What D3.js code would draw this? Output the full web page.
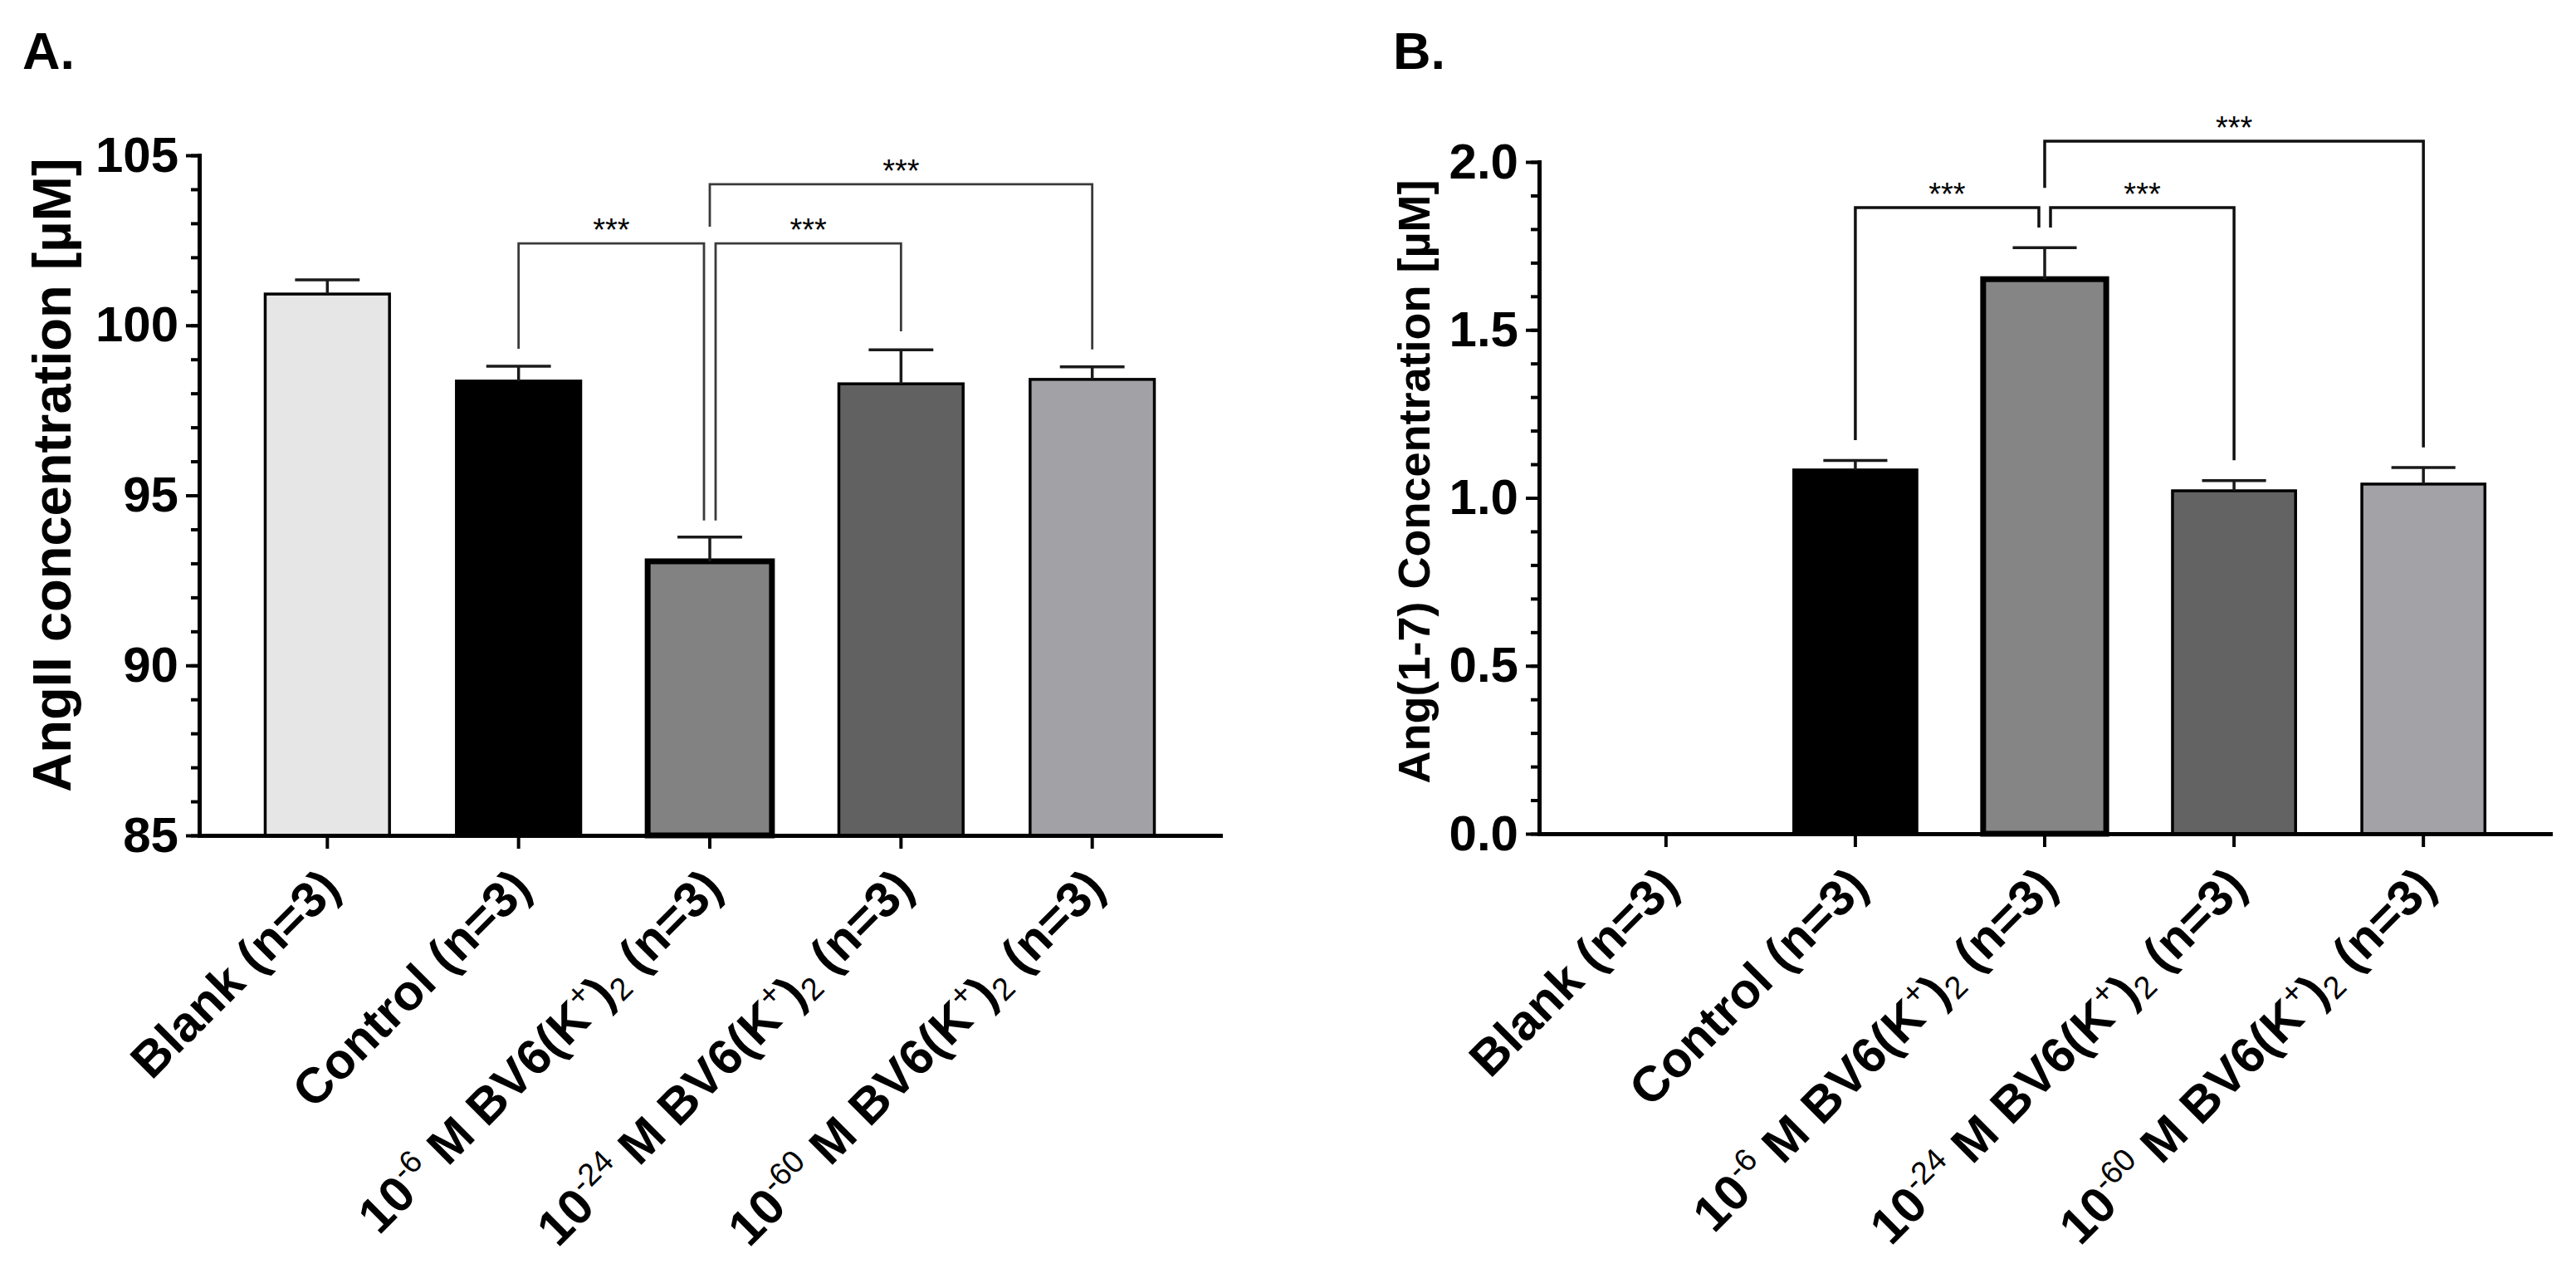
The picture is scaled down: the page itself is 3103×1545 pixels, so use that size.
<!DOCTYPE html>
<html>
<head>
<meta charset="utf-8">
<script src="https://cdn.jsdelivr.net/npm/d3@7"></script>
<style>
  body { margin: 0; background: #fff; }
  text { font-family: "Liberation Sans", Arial, sans-serif; }
</style>
</head>
<body>
<script>
// Two bar charts: AngII (panel A) and Ang(1-7) (panel B) after BV6(K+)2 treatment

// Categories, shared by both panels (^{..} = superscript, _{..} = subscript)
let categories = [
    "Blank (n=3)",
    "Control (n=3)",
    "10^{-6} M BV6(K^{+})_{2} (n=3)",
    "10^{-24} M BV6(K^{+})_{2} (n=3)",
    "10^{-60} M BV6(K^{+})_{2} (n=3)"
];

// Panel A - AngII concentration [µM], mean and error
let angIIMeans = [100.92, 98.36, 93.06, 98.28, 98.41];
let angIIErrors = [0.42, 0.44, 0.71, 1.00, 0.37];
let angIITicks = [85, 90, 95, 100, 105];

// Panel B - Ang(1-7) concentration [µM], mean and error
let ang17Means = [0, 1.083, 1.651, 1.021, 1.041];
let ang17Errors = [0, 0.028, 0.094, 0.030, 0.049];
let ang17Ticks = [0.0, 0.5, 1.0, 1.5, 2.0];

// Significance brackets: from / to category, heights in data units
let angIIBrackets = [
    { from: 1, to: 2, line: 102.41, fromEnd: 99.31, toEnd: 94.26, label: "***" },
    { from: 2, to: 3, line: 102.41, fromEnd: 94.26, toEnd: 99.82, label: "***" },
    { from: 2, to: 4, line: 104.15, fromEnd: 102.90, toEnd: 99.29, label: "***" }
];
let ang17Brackets = [
    { from: 1, to: 2, line: 1.864, fromEnd: 1.172, toEnd: 1.805, label: "***" },
    { from: 2, to: 3, line: 1.864, fromEnd: 1.805, toEnd: 1.112, label: "***" },
    { from: 2, to: 4, line: 2.062, fromEnd: 1.923, toEnd: 1.150, label: "***" }
];

// Bar fills (style)
let fillsA = ["#e6e6e6", "#000000", "#828282", "#616161", "#a2a2a6"];
let fillsB = ["#e6e6e6", "#000000", "#858585", "#636363", "#a3a3a7"];

let svg = d3.select("body")
    .append("svg")
    .attr("width", 3103)
    .attr("height", 1545);

// write a label with ^{} and _{} parts as tspans
function richText(sel, str, small) {
    let parts = str.split(/(\^\{[^}]*\}|_\{[^}]*\})/).filter(s => s.length);
    let shift = 0;
    parts.forEach(p => {
        let kind = "n", t = p;
        if (p.startsWith("^{")) { kind = "sup"; t = p.slice(2, -1); }
        else if (p.startsWith("_{")) { kind = "sub"; t = p.slice(2, -1); }
        let target = kind === "sup" ? -small * 0.62 : kind === "sub" ? small * 0.22 : 0;
        let ts = sel.append("tspan").attr("dy", target - shift).text(t);
        if (kind !== "n") ts.attr("font-size", small).attr("font-weight", "normal");
        shift = target;
    });
}

function drawPanel(cfg) {
    let g = svg.append("g");

    let x = d3.scaleBand()
        .domain(d3.range(categories.length))
        .range([cfg.x0, cfg.x1])
        .paddingInner(0.35)
        .paddingOuter(0.345);

    let y = d3.scaleLinear()
        .domain(cfg.domain)
        .range([cfg.y0, cfg.y1]);

    let bw = x.bandwidth();

    // bars
    g.selectAll("rect.bar")
        .data(cfg.means.map((m, i) => ({ m, i })).filter(d => d.m > cfg.domain[0]))
        .enter().append("rect")
        .attr("class", "bar")
        .attr("x", d => x(d.i))
        .attr("y", d => y(d.m))
        .attr("width", bw)
        .attr("height", d => y(cfg.domain[0]) - y(d.m))
        .attr("fill", d => cfg.fills[d.i])
        .attr("stroke", "#000")
        .attr("stroke-width", d => d.i === 2 ? 7 : 3.5);

    // error bars
    let eb = g.selectAll("g.err")
        .data(cfg.means.map((m, i) => ({ m, e: cfg.errors[i], i })).filter(d => d.e > 0))
        .enter().append("g")
        .attr("class", "err")
        .attr("stroke", "#1a1a1a")
        .attr("stroke-width", 3.5);
    eb.append("line")
        .attr("x1", d => x(d.i) + bw / 2).attr("x2", d => x(d.i) + bw / 2)
        .attr("y1", d => y(d.m)).attr("y2", d => y(d.m + d.e));
    eb.append("line")
        .attr("x1", d => x(d.i) + bw * 0.24).attr("x2", d => x(d.i) + bw * 0.76)
        .attr("y1", d => y(d.m + d.e)).attr("y2", d => y(d.m + d.e));

    // y axis, major and minor ticks
    let yAxis = d3.axisLeft(y)
        .tickValues(cfg.ticks)
        .tickSize(16)
        .tickSizeOuter(0)
        .tickPadding(9)
        .tickFormat(cfg.format);
    let yMinor = d3.axisLeft(y)
        .tickValues(cfg.minor)
        .tickSize(10)
        .tickSizeOuter(0)
        .tickFormat("");

    g.append("g")
        .attr("transform", `translate(${cfg.x0}, 0)`)
        .call(yMinor)
        .call(a => a.select(".domain").remove())
        .selectAll("line").attr("stroke-width", 4);

    let ya = g.append("g")
        .attr("transform", `translate(${cfg.x0}, 0)`)
        .call(yAxis);
    ya.select(".domain").attr("stroke-width", 5).attr("stroke-linecap", "square");
    ya.selectAll("line").attr("stroke-width", 4);
    ya.selectAll("text")
        .attr("font-size", 60)
        .attr("font-weight", "bold")
        .attr("fill", "#000")
        .style("font-family", "'Liberation Sans', Arial, sans-serif");

    // x axis
    let xAxis = d3.axisBottom(x)
        .tickSize(16)
        .tickSizeOuter(0)
        .tickFormat("");
    let xa = g.append("g")
        .attr("transform", `translate(0, ${cfg.y0})`)
        .call(xAxis);
    xa.select(".domain").attr("stroke-width", 5).attr("stroke-linecap", "square");
    xa.selectAll("line").attr("stroke-width", 4);

    // rotated category labels
    categories.forEach((c, i) => {
        let t = g.append("text")
            .attr("transform", `translate(${x(i) + bw / 2 + 18}, ${cfg.y0 + 66}) rotate(-45)`)
            .attr("text-anchor", "end")
            .attr("font-size", 60)
            .attr("font-weight", "bold");
        richText(t, c, 38);
    });

    // significance brackets
    cfg.brackets.forEach(b => {
        let nudge = (idx, other) => {
            let shared = cfg.brackets.some(o => o !== b && o.line === b.line &&
                (o.from === idx || o.to === idx));
            return shared ? Math.sign(other - idx) * 7 : 0;
        };
        let xa1 = x(b.from) + bw / 2 + nudge(b.from, b.to);
        let xa2 = x(b.to) + bw / 2 + nudge(b.to, b.from);
        g.append("path")
            .attr("d", `M${xa1},${y(b.fromEnd)}V${y(b.line)}H${xa2}V${y(b.toEnd)}`)
            .attr("fill", "none")
            .attr("stroke", cfg.bracketColor)
            .attr("stroke-width", cfg.bracketWidth);
        g.append("text")
            .attr("x", (xa1 + xa2) / 2)
            .attr("y", y(b.line) - 3)
            .attr("text-anchor", "middle")
            .attr("font-size", 38)
            .text(b.label);
    });

    // y axis title
    g.append("text")
        .attr("transform", `translate(${cfg.titleX}, ${cfg.titleY}) rotate(-90)`)
        .attr("text-anchor", "middle")
        .attr("font-size", cfg.titleSize)
        .attr("font-weight", "bold")
        .text(cfg.title);

    // panel letter
    g.append("text")
        .attr("x", cfg.letterX)
        .attr("y", 83)
        .attr("font-size", 63)
        .attr("font-weight", "bold")
        .text(cfg.letter);
}

drawPanel({
    means: angIIMeans, errors: angIIErrors, ticks: angIITicks,
    minor: d3.range(85, 105.5, 1), domain: [85, 105], format: d3.format("d"),
    fills: fillsA, brackets: angIIBrackets,
    bracketColor: "#3a3a3a", bracketWidth: 2.8,
    x0: 240, x1: 1470, y0: 1006, y1: 187,
    title: "AngII concentration [µM]", titleX: 85, titleY: 572, titleSize: 65,
    letter: "A.", letterX: 27
});

drawPanel({
    means: ang17Means, errors: ang17Errors, ticks: ang17Ticks,
    minor: d3.range(0, 2.05, 0.1), domain: [0, 2], format: d3.format(".1f"),
    fills: fillsB, brackets: ang17Brackets,
    bracketColor: "#111", bracketWidth: 3.5,
    x0: 1854, x1: 3072, y0: 1004, y1: 195,
    title: "Ang(1-7) Concentration [µM]", titleX: 1722, titleY: 580, titleSize: 54,
    letter: "B.", letterX: 1678
});
</script>
</body>
</html>
